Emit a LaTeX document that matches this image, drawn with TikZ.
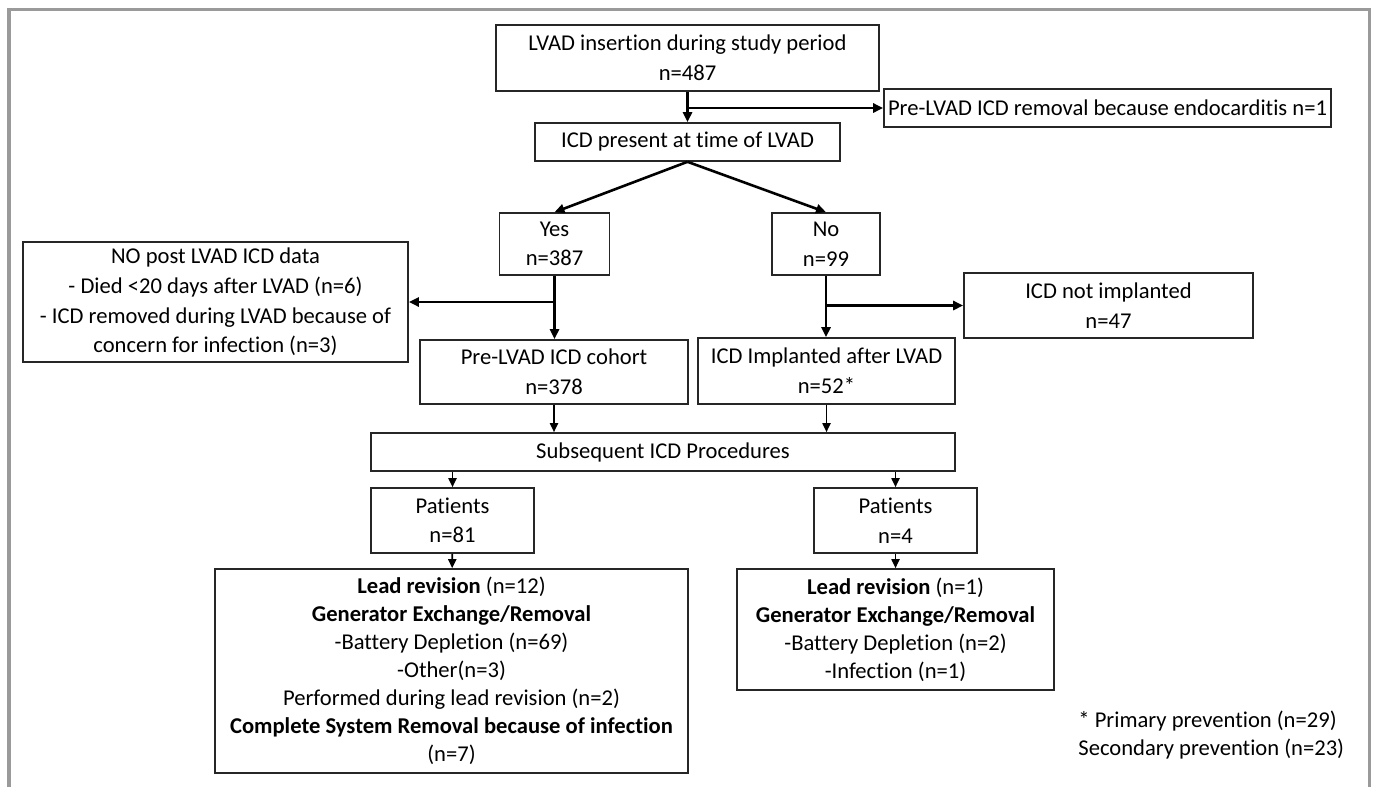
\documentclass[tikz,border=0pt]{standalone}
\usepackage{fontspec}
\setmainfont{Carlito}[Ligatures=NoCommon]
\usetikzlibrary{arrows.meta}

\begin{document}
\begin{tikzpicture}[x=0.5pt, y=-0.5pt,
    box/.style={draw=borderColour, line width=0.8pt, align=center, inner sep=2pt,
        font=\fontsize{11.3}{14.8}\selectfont},
    flow/.style={draw=lineColour, line width=1.3pt, -{Triangle[length=5pt, width=4.5pt]}},
    thinFlow/.style={draw=lineColour, line width=0.9pt, -{Triangle[length=4.5pt, width=4pt]}}]

    \definecolor{borderColour}{HTML}{262626}
    \definecolor{lineColour}{HTML}{000000}
    \definecolor{frameColour}{HTML}{9A9A9A}

    % Fix the page size
    \useasboundingbox (0,0) rectangle (1375,787);

    % Draw outer frame
    \draw[frameColour, line width=1.6pt] (9,787) -- (9,9.5) -- (1369.5,9.5) -- (1369.5,787);

    % Top of the flow
    \node[box, minimum width=191.5pt, minimum height=33pt] (insertion) at (687.5,58)
        {LVAD insertion during study period\\ n=487};
    \node[box, minimum width=219.5pt, minimum height=19pt] (preRemoval) at (1107.5,108)
        {Pre-LVAD ICD removal because endocarditis n=1};
    \node[box, minimum width=152.5pt, minimum height=19pt] (icdPresent) at (687.5,142)
        {ICD present at time of LVAD};

    % Yes / No split
    \node[box, minimum width=55pt, minimum height=31pt] (yes) at (554.5,244) {Yes\\ n=387};
    \node[box, minimum width=54pt, minimum height=31pt] (no) at (826,244) {No\\ n=99};

    % Second level
    \node[box, minimum width=192.5pt, minimum height=60pt] (noData) at (215.5,302)
        {NO post LVAD ICD data\\ - Died <20 days after LVAD (n=6)\\
         - ICD removed during LVAD because of\\ concern for infection (n=3)};
    \node[box, minimum width=134pt, minimum height=32pt] (cohort) at (554,372)
        {Pre-LVAD ICD cohort\\ n=378};
    \node[box, minimum width=144.5pt, minimum height=32.5pt] (notImplanted) at (1108.5,305.5)
        {ICD not implanted\\ n=47};
    \node[box, minimum width=128.5pt, minimum height=33pt] (implanted) at (826.5,371)
        {ICD Implanted after LVAD\\ n=52*};

    % Procedures
    \node[box, minimum width=292pt, minimum height=19pt] (subsequent) at (663,452)
        {Subsequent ICD Procedures};
    \node[box, minimum width=81.5pt, minimum height=32.5pt] (patientsLeft) at (452.5,520.5)
        {Patients\\ n=81};
    \node[box, minimum width=81.5pt, minimum height=32.5pt] (patientsRight) at (895.5,520.5)
        {Patients\\ n=4};

    % Outcome boxes
    \node[box, minimum width=236.5pt, minimum height=102pt,
          font=\fontsize{11.3}{14}\selectfont] (outcomeLeft) at (451.5,671)
        {\textbf{Lead revision} (n=12)\\ \textbf{Generator Exchange/Removal}\\
         -Battery Depletion (n=69)\\ -Other(n=3)\\ Performed during lead revision (n=2)\\
         \textbf{Complete System Removal because of infection}\\ (n=7)};
    \node[box, minimum width=158.5pt, minimum height=60.5pt,
          font=\fontsize{11.3}{14}\selectfont] (outcomeRight) at (895.5,629.5)
        {\textbf{Lead revision} (n=1)\\ \textbf{Generator Exchange/Removal}\\
         -Battery Depletion (n=2)\\ -Infection (n=1)};

    % Footnote
    \node[anchor=north west, align=left, inner sep=0pt,
          font=\fontsize{11.3}{14}\selectfont] (footnote) at (1078,711)
        {* Primary prevention (n=29)\\ Secondary prevention (n=23)};

    % Connectors
    \draw[flow] (insertion) -- (icdPresent);
    \draw[flow] (insertion.south |- preRemoval.west) -- (preRemoval.west);
    \draw[flow] (icdPresent.south) -- (yes.north);
    \draw[flow] (icdPresent.south) -- (no.north);
    \draw[flow] (yes.south) -- (yes.south |- cohort.north);
    \draw[flow] (yes.south |- noData.east) -- (noData.east);
    \draw[flow] (no.south) -- (no.south |- implanted.north);
    \draw[flow] (no.south |- notImplanted.west) -- (notImplanted.west);

    \draw[thinFlow] (cohort.south) -- (cohort.south |- subsequent.north);
    \draw[thinFlow] (implanted.south) -- (implanted.south |- subsequent.north);
    \draw[thinFlow] (patientsLeft.north |- subsequent.south) -- (patientsLeft.north);
    \draw[thinFlow] (patientsRight.north |- subsequent.south) -- (patientsRight.north);
    \draw[thinFlow] (patientsLeft) -- (outcomeLeft);
    \draw[thinFlow] (patientsRight) -- (outcomeRight);

\end{tikzpicture}
\end{document}
